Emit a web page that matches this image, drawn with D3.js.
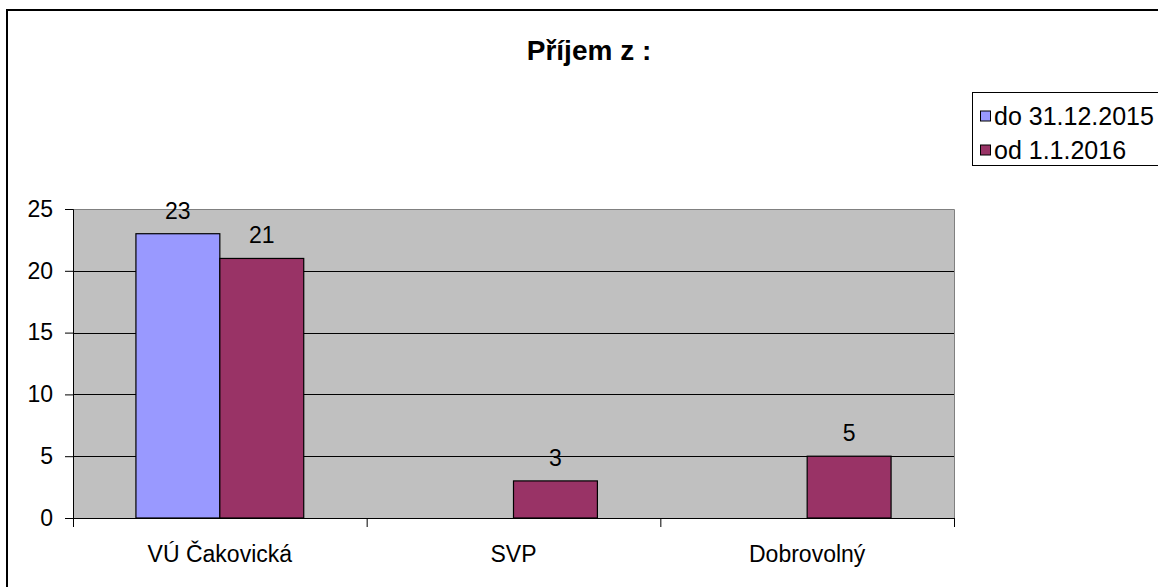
<!DOCTYPE html>
<html>
<head>
<meta charset="utf-8">
<script src="https://cdn.jsdelivr.net/npm/d3@7"></script>
<style>
  body { margin: 0; background: #fff; }
  svg { display: block; font-family: Arial, "Liberation Sans", sans-serif; }
</style>
</head>
<body>
<div id="chart"></div>
<script>
// chart data
const categories = ["VÚ Čakovická", "SVP", "Dobrovolný"]
const seriesNames = ["do 31.12.2015", "od 1.1.2016"]
const seriesBefore = [23, null, null]
const seriesAfter = [21, 3, 5]
const yTicks = [0, 5, 10, 15, 20, 25]
const title = "Příjem z :"

const colors = ["#9999FF", "#993366"]

const width = 1158
const height = 587
// plot area
const plotLeft = 73, plotRight = 954, plotTop = 209, plotBottom = 518

const svg = d3.select("#chart").append("svg")
  .attr("width", width)
  .attr("height", height)

// outer chart border (runs off the right and bottom)
svg.append("rect")
  .attr("x", 7).attr("y", 10)
  .attr("width", 1170).attr("height", 600)
  .attr("fill", "none").attr("stroke", "#000").attr("stroke-width", 2)

svg.append("text")
  .attr("x", 589).attr("y", 60)
  .attr("text-anchor", "middle")
  .attr("font-size", 28).attr("font-weight", "bold")
  .text(title)

const y = d3.scaleLinear().domain([0, 25]).range([plotBottom, plotTop])
const x = d3.scaleBand().domain(categories).range([plotLeft, plotRight])
const gap = x.bandwidth() * 0.75 / 3.5
const xInner = d3.scaleBand().domain(seriesNames).range([gap, x.bandwidth() - gap])

// plot background
svg.append("rect")
  .attr("x", plotLeft).attr("y", plotTop)
  .attr("width", plotRight - plotLeft).attr("height", plotBottom - plotTop)
  .attr("fill", "#C0C0C0")

// gridlines
svg.append("g").selectAll("line")
  .data(yTicks.filter(d => d > 0 && d < 25))
  .join("line")
  .attr("x1", plotLeft).attr("x2", plotRight)
  .attr("y1", d => Math.round(y(d)) + 0.5).attr("y2", d => Math.round(y(d)) + 0.5)
  .attr("stroke", "#000")

// gray top/right border of plot
svg.append("path")
  .attr("d", `M${plotLeft},${plotTop + 0.5}H${plotRight + 0.5}V${plotBottom}`)
  .attr("fill", "none").attr("stroke", "#808080")

// bars
const rows = categories.map((c, i) => ({ cat: c, values: [seriesBefore[i], seriesAfter[i]] }))
const groups = svg.append("g").selectAll("g")
  .data(rows)
  .join("g")
  .attr("transform", d => `translate(${x(d.cat)},0)`)

const bars = groups.selectAll("g")
  .data(d => d.values.map((v, j) => ({ name: seriesNames[j], value: v, j })).filter(e => e.value != null))
  .join("g")

bars.append("rect")
  .attr("x", d => xInner(d.name))
  .attr("y", d => y(d.value))
  .attr("width", xInner.bandwidth())
  .attr("height", d => y(0) - y(d.value))
  .attr("fill", d => colors[d.j])
  .attr("stroke", "#000").attr("stroke-width", 1.2)

bars.append("text")
  .attr("x", d => xInner(d.name) + xInner.bandwidth() / 2)
  .attr("y", d => y(d.value) - 15)
  .attr("text-anchor", "middle")
  .attr("font-size", 23)
  .text(d => d.value)

// y axis
const yAxis = d3.axisLeft(y).tickValues(yTicks).tickSize(8).tickPadding(12)
svg.append("g")
  .attr("transform", `translate(${plotLeft},0)`)
  .call(yAxis)
  .call(g => g.selectAll("text").attr("font-size", 23).attr("fill", "#000").attr("font-family", null))
  .call(g => g.selectAll("line,path").attr("stroke", "#000"))

// x axis: boundary ticks
const xEdge = d3.scaleLinear().domain([0, categories.length]).range([plotLeft, plotRight])
svg.append("g")
  .attr("transform", `translate(0,${plotBottom})`)
  .call(d3.axisBottom(xEdge).ticks(categories.length).tickSize(9).tickFormat(""))
  .call(g => g.selectAll("line,path").attr("stroke", "#000"))

// x axis: category labels
svg.append("g")
  .attr("transform", `translate(0,${plotBottom})`)
  .call(d3.axisBottom(x).tickSize(0).tickPadding(28))
  .call(g => g.select(".domain").remove())
  .call(g => g.selectAll("text").attr("font-size", 23).attr("fill", "#000").attr("font-family", null))

// legend
const legend = svg.append("g")
legend.append("rect")
  .attr("x", 972.5).attr("y", 92.5)
  .attr("width", 300).attr("height", 73)
  .attr("fill", "#fff").attr("stroke", "#000")

const items = legend.selectAll("g.item")
  .data(seriesNames)
  .join("g")
  .attr("class", "item")
  .attr("transform", (d, i) => `translate(980,${116 + i * 34})`)

items.append("rect")
  .attr("x", 0.5).attr("y", -5)
  .attr("width", 10).attr("height", 10)
  .attr("fill", (d, i) => colors[i])
  .attr("stroke", "#000")

items.append("text")
  .attr("x", 14).attr("y", 9)
  .attr("font-size", 25)
  .text(d => d)
</script>
</body>
</html>
